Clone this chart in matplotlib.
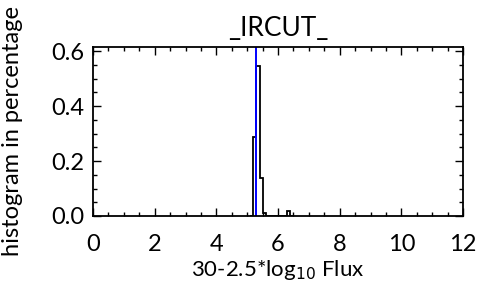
import matplotlib
matplotlib.use("Agg")
import matplotlib.pyplot as plt
from matplotlib.ticker import MultipleLocator

# histogram of magnitudes (fraction per bin)
bin_edges = [5.1, 5.2, 5.3, 5.4, 5.5, 5.6, 5.7, 5.8, 5.9, 6.0, 6.1, 6.2, 6.3, 6.4, 6.5]
fractions = [0.0, 0.287, 0.546, 0.14, 0.01, 0.0, 0.0, 0.0, 0.0, 0.0, 0.0, 0.0, 0.02, 0.0]
median_mag = 5.29

plt.rcParams['font.family'] = ['Lato', 'DejaVu Sans']

fig = plt.figure(figsize=(4.81, 2.84), dpi=100)
ax = fig.add_axes([93/481, 1 - 216/284, 370/481, 169/284])

ax.stairs(fractions, bin_edges, color='black', linewidth=1.3, baseline=0, fill=False)
ax.axvline(median_mag, color='blue', linewidth=1.4)

ax.set_xlim(0, 12)
ax.set_ylim(0, 0.615)
ax.xaxis.set_major_locator(MultipleLocator(2))
ax.xaxis.set_minor_locator(MultipleLocator(0.5))
ax.yaxis.set_major_locator(MultipleLocator(0.2))
ax.yaxis.set_minor_locator(MultipleLocator(0.05))
ax.yaxis.set_major_formatter(lambda v, p: f"{v:.1f}")

ax.tick_params(which='both', direction='in', top=True, right=True, width=1.0)
ax.tick_params(which='major', length=6)
ax.tick_params(which='minor', length=3)
ax.tick_params(axis='x', pad=13, labelsize=17)
ax.tick_params(axis='y', pad=6, labelsize=17)
for s in ax.spines.values():
    s.set_linewidth(1.3)

ax.set_title('_IRCUT_', fontsize=19, pad=8)
ax.set_xlabel('30-2.5*log$_{10}$ Flux', fontsize=16, labelpad=2)
ax.set_ylabel('histogram in percentage', fontsize=17)
ax.yaxis.set_label_coords(-0.19, 0.5)

fig.savefig('out.png', dpi=100)
